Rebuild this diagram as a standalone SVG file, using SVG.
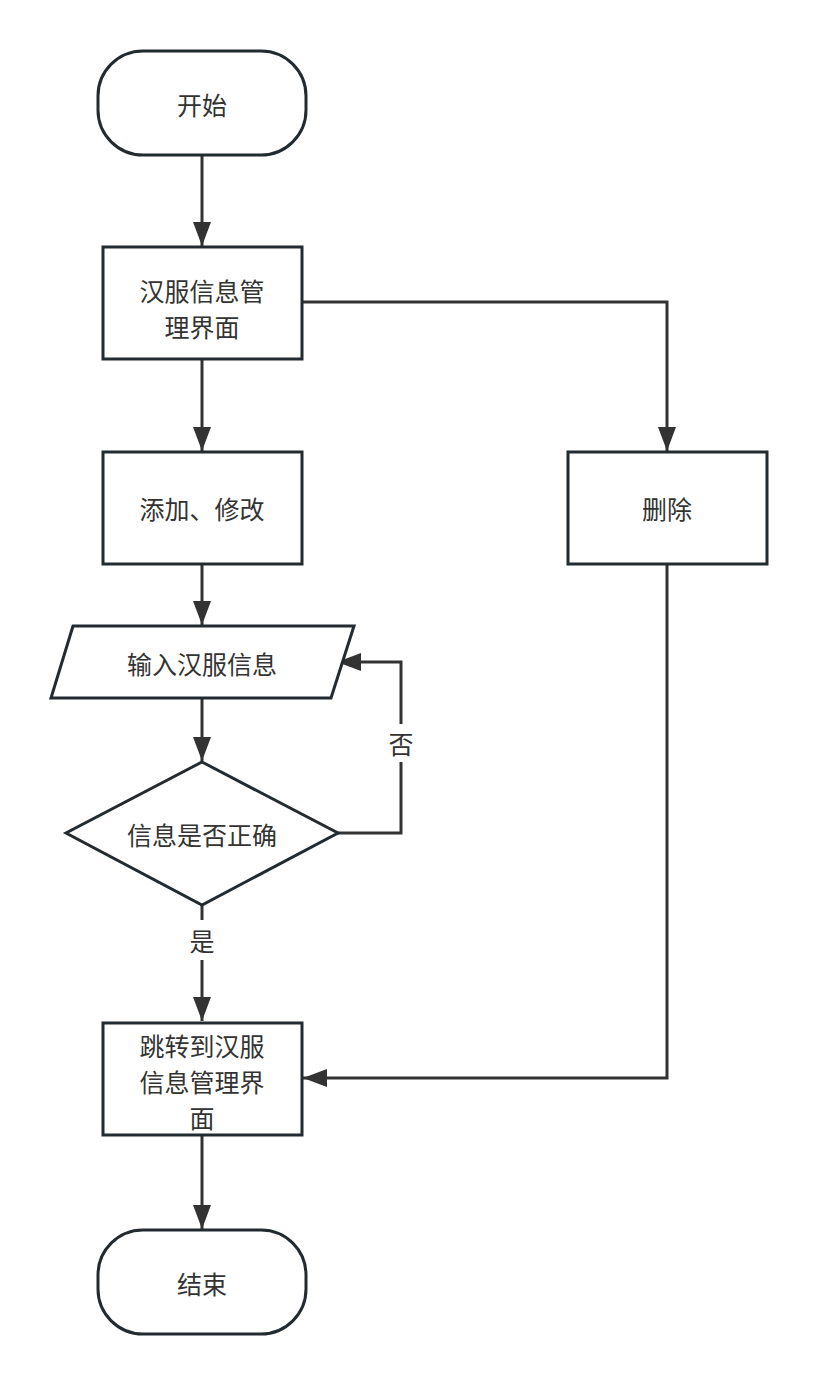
<svg xmlns="http://www.w3.org/2000/svg" width="818" height="1385" viewBox="0 0 818 1385">
<defs>
<marker id="arr" markerUnits="userSpaceOnUse" markerWidth="26" markerHeight="20" refX="24" refY="9" orient="auto">
<path d="M0,0 L24,9 L0,18 Z" fill="#333"/>
</marker>
<style>
.n{fill:#fff;stroke:#222b30;stroke-width:3}
.t{font-family:"Noto Sans CJK SC","Noto Sans",sans-serif;font-size:25px;fill:#333;text-anchor:middle;dominant-baseline:central}
.c{fill:none;stroke:#333;stroke-width:3}
</style>
</defs>
<rect width="818" height="1385" fill="#fff"/>
<g id="connectors">
<path class="c" d="M202,155 L202,246" marker-end="url(#arr)"/>
<path class="c" d="M202,359 L202,451" marker-end="url(#arr)"/>
<path class="c" d="M302,302 L667,302 L667,451" marker-end="url(#arr)"/>
<path class="c" d="M202,564 L202,625" marker-end="url(#arr)"/>
<path class="c" d="M202,698 L202,761" marker-end="url(#arr)"/>
<path class="c" d="M338,833 L401,833 L401,662 L337,662" marker-end="url(#arr)"/>
<path class="c" d="M202,905 L202,1021" marker-end="url(#arr)"/>
<path class="c" d="M667,564 L667,1078 L303,1078" marker-end="url(#arr)"/>
<path class="c" d="M202,1135 L202,1229" marker-end="url(#arr)"/>
<rect x="385" y="724" width="32" height="38" fill="#fff"/>
<text class="t" x="401" y="743">否</text>
<rect x="186" y="920" width="32" height="40" fill="#fff"/>
<text class="t" x="202" y="940">是</text>
</g>
<g id="start">
<rect class="n" x="98" y="51" width="208" height="104" rx="45" ry="45"/>
<text class="t" x="202" y="104">开始</text>
</g>
<g id="manage">
<rect class="n" x="103" y="247" width="199" height="112"/>
<text class="t" x="202" y="290">汉服信息管</text>
<text class="t" x="202" y="326">理界面</text>
</g>
<g id="addedit">
<rect class="n" x="103" y="452" width="199" height="112"/>
<text class="t" x="202" y="508">添加、修改</text>
</g>
<g id="delete">
<rect class="n" x="568" y="452" width="199" height="112"/>
<text class="t" x="667" y="508">删除</text>
</g>
<g id="input">
<polygon class="n" points="73,626 354,626 331,698 51,698"/>
<text class="t" x="202" y="663">输入汉服信息</text>
</g>
<g id="decision">
<polygon class="n" points="202,762 338,833 202,905 66,833"/>
<text class="t" x="202" y="834">信息是否正确</text>
</g>
<g id="jump">
<rect class="n" x="103" y="1023" width="199" height="112"/>
<text class="t" x="202" y="1045">跳转到汉服</text>
<text class="t" x="202" y="1081">信息管理界</text>
<text class="t" x="202" y="1117">面</text>
</g>
<g id="end">
<rect class="n" x="98" y="1230" width="208" height="104" rx="45" ry="45"/>
<text class="t" x="202" y="1283">结束</text>
</g>
</svg>
